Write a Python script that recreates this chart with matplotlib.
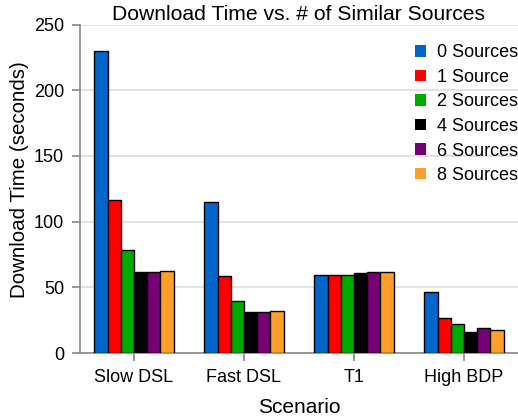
import numpy as np
import matplotlib
matplotlib.use("Agg")
import matplotlib.pyplot as plt

plt.rcParams['font.family'] = ['Liberation Sans', 'DejaVu Sans']

scenarios = ["Slow DSL", "Fast DSL", "T1", "High BDP"]
series_names = ["0 Sources", "1 Source", "2 Sources", "4 Sources", "6 Sources", "8 Sources"]
s0 = [229.8, 114.9, 59.1, 46.2]
s1 = [116.2, 58.3, 59.3, 26.6]
s2 = [78.2, 39.3, 59.6, 22.1]
s4 = [61.6, 31.0, 60.6, 16.0]
s6 = [61.9, 31.2, 61.4, 19.3]
s8 = [62.7, 31.7, 61.6, 17.3]
series = [s0, s1, s2, s4, s6, s8]
colors = ["#0066CC", "#FF0000", "#00AA00", "#000000", "#770077", "#FF9E28"]

fig = plt.figure(figsize=(5.18, 4.17), dpi=100)
ax = fig.add_axes([80/518, 1-353/417, 438/518, (353-24.5)/417])

x = np.arange(len(scenarios))
n = len(series)
w = 0.12
for i, (vals, c, name) in enumerate(zip(series, colors, series_names)):
    ax.bar(x + (i - (n-1)/2)*w, vals, w, color=c, edgecolor='black', linewidth=1.0,
           label=name, zorder=3)

ax.set_xlim(-0.49, 3.49)
ax.set_ylim(0, 250)
ax.set_yticks([0, 50, 100, 150, 200, 250])
ax.set_xticks(x)
ax.set_xticklabels(scenarios)
ax.yaxis.grid(True, color='#dddddd', linewidth=1.2, zorder=0)
ax.set_axisbelow(True)
for s in ['top', 'right']:
    ax.spines[s].set_visible(False)
for s in ['left', 'bottom']:
    ax.spines[s].set_color('#888888')
    ax.spines[s].set_linewidth(1.2)
ax.tick_params(axis='both', colors='#888888', labelcolor='black', labelsize=13,
               length=5.5, width=1.2)
ax.tick_params(axis='y', pad=6)
ax.tick_params(axis='x', pad=6)

ax.set_title("Download Time vs. # of Similar Sources", fontsize=15.2, pad=3.5)
ax.set_xlabel("Scenario", fontsize=15, labelpad=9)
ax.set_ylabel("Download Time (seconds)", fontsize=14.8)
ax.yaxis.set_label_coords(-0.117, (353-180)/328.5)

leg = ax.legend(loc='upper right', frameon=False, fontsize=13, handlelength=0.6,
                handleheight=0.6, handletextpad=0.6, labelspacing=0.42,
                borderaxespad=0.0, borderpad=0.0, bbox_to_anchor=(1.0, 0.94))
for h in leg.legend_handles:
    h.set_edgecolor('none')

fig.savefig("out.png", dpi=100)
